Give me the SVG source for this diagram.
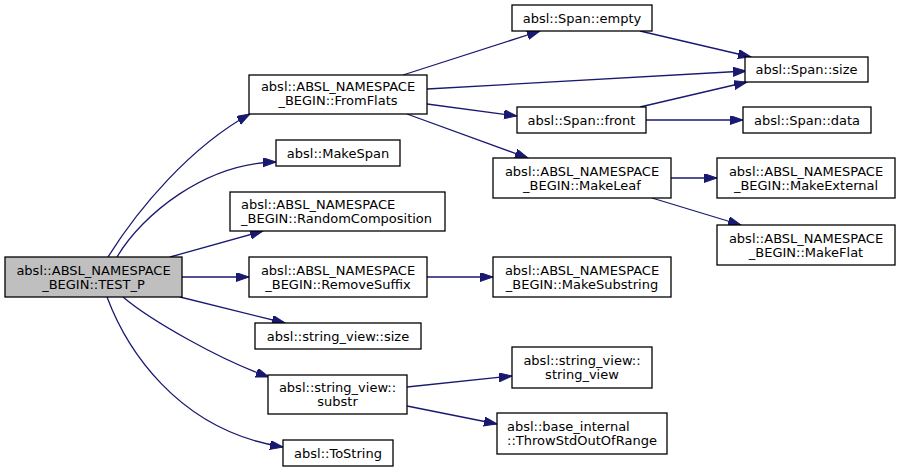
<svg xmlns="http://www.w3.org/2000/svg" width="901" height="472" viewBox="0 0 901 472">
<style>
.n rect{fill:#ffffff;stroke:#000000;stroke-width:1.3}
.n rect.cur{fill:#bfbfbf}
.n text{font-family:"DejaVu Sans",sans-serif;font-size:13px;fill:#000000;text-anchor:middle}
.n text.l{text-anchor:start}
.e path{fill:none;stroke:#191970;stroke-width:1.3;marker-end:url(#ah)}
</style>
<defs>
<marker id="ah" markerUnits="userSpaceOnUse" markerWidth="14" markerHeight="10" refX="13" refY="4.5" orient="auto">
<path d="M0,0 L13,4.5 L0,9 z" fill="#191970" stroke="#191970" stroke-width="1"/>
</marker>
</defs>
<g id="edges" class="e">
<path d="M108,257 C138,209 190,147 250,114"/>
<path d="M117,257 C142,215 205,163 276,162"/>
<path d="M170,257 L263,231"/>
<path d="M182,277 L249,277"/>
<path d="M180,297 L285,323"/>
<path d="M123,297 C150,320 220,360 269,377"/>
<path d="M107,297 C125,345 175,430 283,447"/>
<path d="M403,75 L540,31"/>
<path d="M427,89 L746,71"/>
<path d="M427,104 L517,116"/>
<path d="M407,114 L528,158"/>
<path d="M640,31 L751,57"/>
<path d="M640,107 L747,82"/>
<path d="M646,120 L743,120"/>
<path d="M671,178 L717,178"/>
<path d="M652,198 L741,225"/>
<path d="M427,277 L493,277"/>
<path d="M407,387 L512,376"/>
<path d="M407,406 L497,424"/>
</g>
<g id="test_p" class="n"><rect class="cur" x="5" y="257" width="177" height="40"/><text x="93.5" y="274.5">absl::ABSL_NAMESPACE</text><text x="93.5" y="288.5">_BEGIN::TEST_P</text></g>
<g id="fromflats" class="n"><rect x="249" y="75" width="178" height="39"/><text x="338" y="91">absl::ABSL_NAMESPACE</text><text x="338" y="105">_BEGIN::FromFlats</text></g>
<g id="makespan" class="n"><rect x="276" y="140" width="124" height="26"/><text x="338" y="157.5">absl::MakeSpan</text></g>
<g id="randomcomposition" class="n"><rect x="230" y="192" width="215" height="39"/><text class="l" x="241" y="209">absl::ABSL_NAMESPACE</text><text class="l" x="241" y="223">_BEGIN::RandomComposition</text></g>
<g id="removesuffix" class="n"><rect x="249" y="257" width="178" height="40"/><text x="338" y="274.5">absl::ABSL_NAMESPACE</text><text x="338" y="288.5">_BEGIN::RemoveSuffix</text></g>
<g id="sv_size" class="n"><rect x="255" y="323" width="166" height="26"/><text x="338" y="340.5">absl::string_view::size</text></g>
<g id="substr" class="n"><rect x="268" y="375" width="139" height="39"/><text x="337.5" y="392">absl::string_view::</text><text x="337.5" y="406">substr</text></g>
<g id="tostring" class="n"><rect x="283" y="440" width="110" height="26"/><text x="338" y="457.5">absl::ToString</text></g>
<g id="span_empty" class="n"><rect x="512" y="5" width="140" height="26"/><text x="582" y="22.5">absl::Span::empty</text></g>
<g id="span_front" class="n"><rect x="517" y="107" width="129" height="26"/><text x="581.5" y="124.5">absl::Span::front</text></g>
<g id="makeleaf" class="n"><rect x="493" y="158" width="178" height="40"/><text x="582" y="175.5">absl::ABSL_NAMESPACE</text><text x="582" y="189.5">_BEGIN::MakeLeaf</text></g>
<g id="makesubstring" class="n"><rect x="493" y="257" width="178" height="40"/><text x="582" y="274.5">absl::ABSL_NAMESPACE</text><text x="582" y="288.5">_BEGIN::MakeSubstring</text></g>
<g id="sv_ctor" class="n"><rect x="512" y="347" width="140" height="41"/><text x="582" y="365">absl::string_view::</text><text x="582" y="379">string_view</text></g>
<g id="throw" class="n"><rect x="497" y="413" width="170" height="41"/><text class="l" x="507" y="431">absl::base_internal</text><text x="582" y="445">::ThrowStdOutOfRange</text></g>
<g id="span_size" class="n"><rect x="745" y="57" width="123" height="25"/><text x="806.5" y="74">absl::Span::size</text></g>
<g id="span_data" class="n"><rect x="743" y="107" width="128" height="26"/><text x="807" y="124.5">absl::Span::data</text></g>
<g id="makeexternal" class="n"><rect x="717" y="158" width="178" height="40"/><text x="806" y="175.5">absl::ABSL_NAMESPACE</text><text x="806" y="189.5">_BEGIN::MakeExternal</text></g>
<g id="makeflat" class="n"><rect x="717" y="225" width="178" height="40"/><text x="806" y="242.5">absl::ABSL_NAMESPACE</text><text x="806" y="256.5">_BEGIN::MakeFlat</text></g>
</svg>
